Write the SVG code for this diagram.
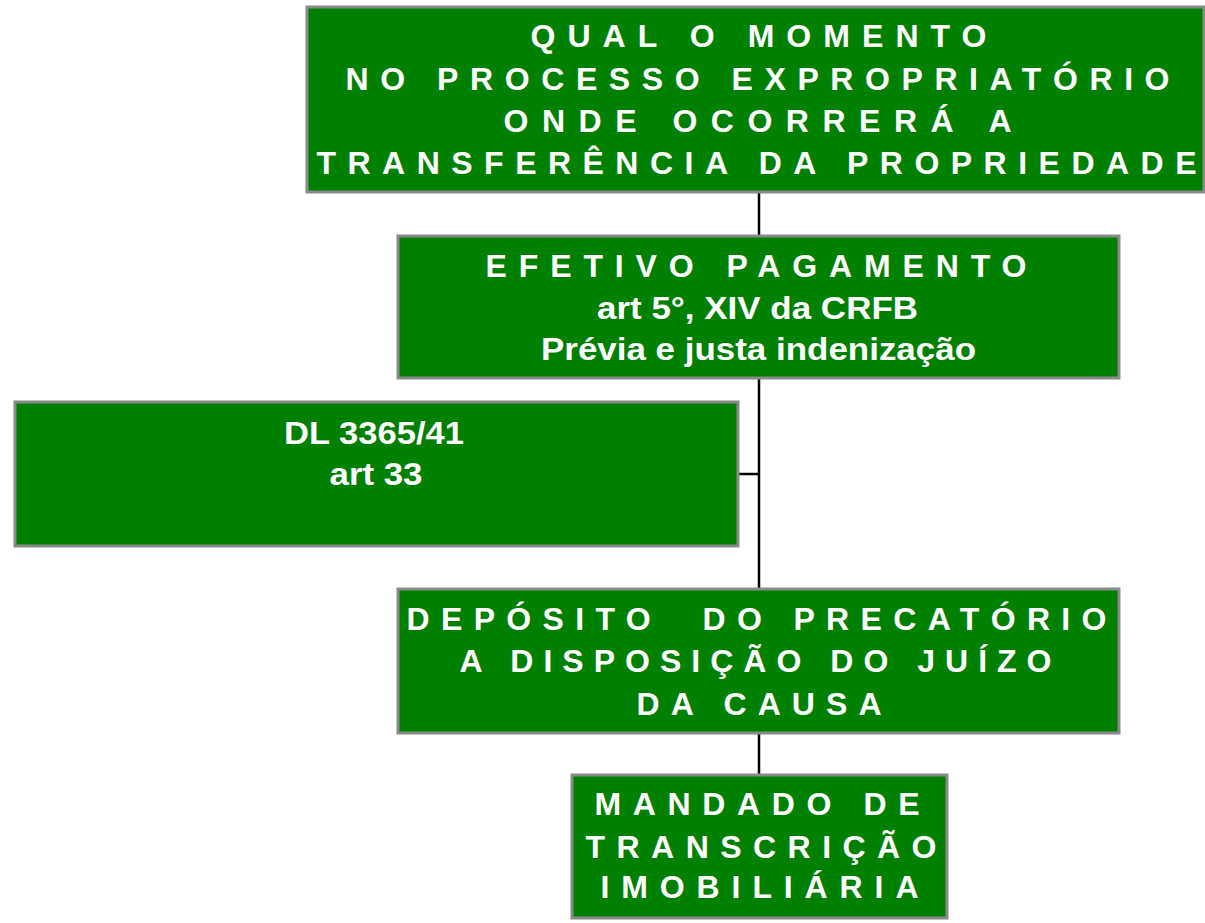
<svg xmlns="http://www.w3.org/2000/svg" width="1205" height="923" viewBox="0 0 1205 923">
<style>
.box{fill:#008000;stroke:#8a8a8a;stroke-width:3}
.t{font-family:"Liberation Sans",Arial,sans-serif;font-weight:bold;fill:#ffffff;text-anchor:middle;font-size:32px}
.s{font-size:31px}
.conn{stroke:#000;stroke-width:2.5;fill:none}
</style>
<rect width="1205" height="923" fill="#ffffff"/>
<g id="connectors">
<path class="conn" d="M759 193 V236 M759 378 V589 M738 474 H759 M759 733 V775"/>
</g>
<g id="n1">
<rect class="box" x="307" y="7" width="897" height="185"/>
<text class="t" x="758.5" y="47" textLength="456" lengthAdjust="spacing">QUAL O MOMENTO</text>
<text class="t" x="757.5" y="90" textLength="824" lengthAdjust="spacing">NO PROCESSO EXPROPRIATÓRIO</text>
<text class="t" x="757.5" y="132" textLength="508" lengthAdjust="spacing">ONDE OCORRERÁ A</text>
<text class="t" x="756.5" y="174" textLength="880" lengthAdjust="spacing">TRANSFERÊNCIA DA PROPRIEDADE</text>
</g>
<g id="n2">
<rect class="box" x="398" y="236" width="721" height="142"/>
<text class="t" x="756" y="277" textLength="541" lengthAdjust="spacing">EFETIVO PAGAMENTO</text>
<text class="t s" x="757.5" y="319" textLength="321" lengthAdjust="spacingAndGlyphs">art 5°, XIV da CRFB</text>
<text class="t s" x="758.5" y="360" textLength="435" lengthAdjust="spacingAndGlyphs">Prévia e justa indenização</text>
</g>
<g id="n3">
<rect class="box" x="15" y="402" width="723" height="144"/>
<text class="t" x="374" y="444" textLength="180" lengthAdjust="spacingAndGlyphs">DL 3365/41</text>
<text class="t" x="376" y="485" textLength="93" lengthAdjust="spacingAndGlyphs">art 33</text>
</g>
<g id="n4">
<rect class="box" x="398" y="589" width="721" height="144"/>
<text class="t" x="756.5" y="630" textLength="700" lengthAdjust="spacing" xml:space="preserve">DEPÓSITO  DO PRECATÓRIO</text>
<text class="t" x="755.5" y="672" textLength="592" lengthAdjust="spacing">A DISPOSIÇÃO DO JUÍZO</text>
<text class="t" x="759" y="715" textLength="245" lengthAdjust="spacing">DA CAUSA</text>
</g>
<g id="n5">
<rect class="box" x="572" y="775" width="375" height="143"/>
<text class="t" x="757" y="815" textLength="325" lengthAdjust="spacing">MANDADO DE</text>
<text class="t" x="761" y="858" textLength="351" lengthAdjust="spacing">TRANSCRIÇÃO</text>
<text class="t" x="759.5" y="898" textLength="318" lengthAdjust="spacing">IMOBILIÁRIA</text>
</g>
</svg>
